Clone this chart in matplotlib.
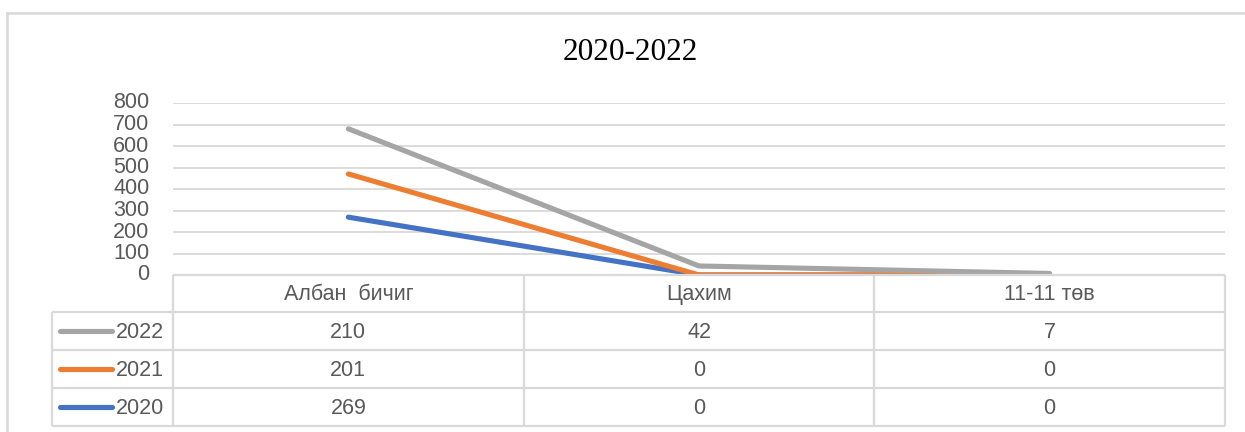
import numpy as np
import matplotlib
matplotlib.use("Agg")
import matplotlib.pyplot as plt
from matplotlib.lines import Line2D

categories = ["Албан  бичиг", "Цахим", "11-11 төв"]
years = ["2020", "2021", "2022"]
v2020 = [269, 0, 0]
v2021 = [201, 0, 0]
v2022 = [210, 42, 7]
colors = ["#4472c4", "#ed7d31", "#a5a5a5"]
yticks = [0, 100, 200, 300, 400, 500, 600, 700, 800]

W, H = 1245, 432
fig = plt.figure(figsize=(W / 100, H / 100), dpi=100)
txt = "#595959"
grid = "#d9d9d9"
font = "Liberation Sans"
fs = 15.5

# pixel layout of the chart area
px_l, px_r = 173, 1225
px_top, px_zero = 103, 275
row_y = [275, 312, 350, 388, 426]
tab_left = 52

def fx(x):
    return x / W

def fy(y):
    return 1 - y / H

ax = fig.add_axes([fx(px_l), fy(px_zero), fx(px_r) - fx(px_l), fy(px_top) - fy(px_zero)])
series = np.cumsum(np.array([v2020, v2021, v2022]), axis=0)
xs = np.arange(len(categories)) + 0.5
for s, c in zip(series, colors):
    ax.plot(xs, s, color=c, lw=3.7, solid_capstyle="round", solid_joinstyle="round", zorder=3)
ax.set_xlim(0, len(categories))
ax.set_ylim(0, 800)
ax.set_yticks(yticks)
ax.set_yticklabels([str(t) for t in yticks], fontsize=fs, color=txt, family=font)
ax.tick_params(axis="y", length=0, pad=17)
ax.set_xticks([])
for sp in ax.spines.values():
    sp.set_visible(False)
for t in yticks[1:]:
    ax.axhline(t, color=grid, lw=1.3, zorder=1)
for lab in ax.get_yticklabels():
    lab.set_verticalalignment("center")

# data table drawn in pixel space
ov = fig.add_axes([0, 0, 1, 1])
ov.set_xlim(0, W)
ov.set_ylim(H, 0)
ov.axis("off")
lc = dict(color=grid, lw=1.6, solid_capstyle="butt")
col_x = np.linspace(px_l, px_r, len(categories) + 1)
ov.plot([px_l, px_r], [row_y[0], row_y[0]], **lc)
for y in row_y[1:]:
    ov.plot([tab_left, px_r], [y, y], **lc)
ov.plot([tab_left, tab_left], [row_y[1], row_y[-1]], **lc)
for x in col_x:
    ov.plot([x, x], [row_y[0], row_y[-1]], **lc)

centers = (col_x[:-1] + col_x[1:]) / 2
for cx, cat in zip(centers, categories):
    ov.text(cx, (row_y[0] + row_y[1]) / 2 + 1, cat, ha="center", va="center",
            fontsize=fs, color=txt, family=font)

rows = [(years[2], v2022, colors[2]), (years[1], v2021, colors[1]), (years[0], v2020, colors[0])]
for i, (yr, vals, c) in enumerate(rows):
    yc = (row_y[i + 1] + row_y[i + 2]) / 2
    ov.add_line(Line2D([60, 112], [yc, yc], color=c, lw=3.7, solid_capstyle="round"))
    ov.text(116, yc + 1, yr, ha="left", va="center", fontsize=fs, color=txt, family=font)
    for cx, v in zip(centers, vals):
        ov.text(cx, yc + 1, str(v), ha="center", va="center", fontsize=fs, color=txt, family=font)

# outer chart frame (left and top edges visible)
ov.plot([7, 7], [13, H], color=grid, lw=1.8)
ov.plot([7, W], [13, 13], color=grid, lw=1.8)

ov.text(630, 53, "2020-2022", ha="center", va="center", fontsize=22.5,
        family="Liberation Serif", color="black")

fig.savefig("out.png", dpi=100)
